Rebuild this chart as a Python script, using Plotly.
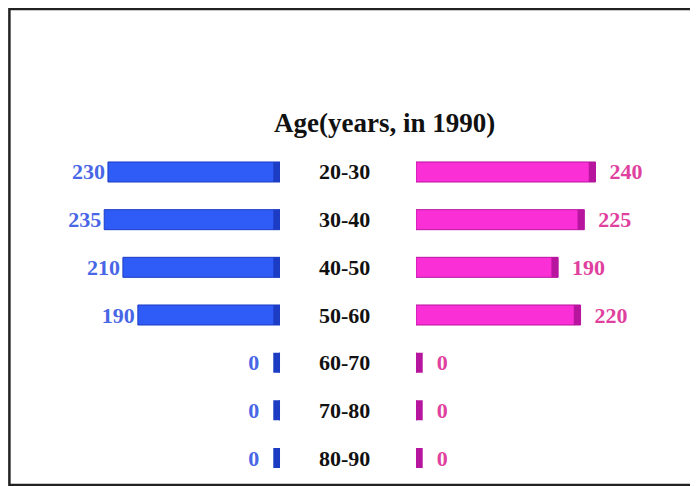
import plotly.graph_objects as go

# Age groups and counts (1990)
age_groups = ['20-30', '30-40', '40-50', '50-60', '60-70', '70-80', '80-90']
left_values = [230, 235, 210, 190, 0, 0, 0]
right_values = [240, 225, 190, 220, 0, 0, 0]
title_text = 'Age(years, in 1990)'

blue = '#2f5cf6'
blue_dark = '#1c3cc4'
pink = '#fb2fd6'
pink_dark = '#b8159f'
serif = 'Liberation Serif, Times New Roman, serif'
nb = '\u00a0'

cap = 9  # depth of the 3D end cap, in data units

fig = go.Figure()

# Left side (blue), reversed axis
fig.add_trace(go.Bar(
    y=age_groups, x=left_values, orientation='h',
    width=0.42, marker=dict(color=blue, line=dict(color=blue_dark, width=1)),
    text=[str(v) if v else '' for v in left_values],
    textposition='outside', cliponaxis=False, constraintext='none',
    textfont=dict(family=serif, size=22, color='#4866e6', weight='bold'),
    xaxis='x', yaxis='y', showlegend=False,
))
fig.add_trace(go.Bar(
    y=age_groups, x=[cap] * len(left_values), base=0, orientation='h',
    width=0.42, marker=dict(color=blue_dark, line=dict(width=0)),
    text=['' if v else str(v) + nb * 2 for v in left_values],
    textposition='outside', cliponaxis=False, constraintext='none',
    textfont=dict(family=serif, size=22, color='#4866e6', weight='bold'),
    xaxis='x', yaxis='y', showlegend=False,
))

# Right side (pink)
fig.add_trace(go.Bar(
    y=age_groups, x=right_values, orientation='h',
    width=0.42, marker=dict(color=pink, line=dict(color=pink_dark, width=1)),
    xaxis='x2', yaxis='y', showlegend=False,
))
fig.add_trace(go.Bar(
    y=age_groups, x=[cap] * len(right_values),
    base=[max(v - cap, 0) for v in right_values],
    orientation='h', width=0.42,
    marker=dict(color=pink_dark, line=dict(width=0)),
    text=[nb * 2 + str(v) for v in right_values],
    textposition='outside', cliponaxis=False, constraintext='none',
    textfont=dict(family=serif, size=22, color='#e0409e', weight='bold'),
    xaxis='x2', yaxis='y', showlegend=False,
))

# Age group labels in the middle
for g in age_groups:
    fig.add_annotation(
        x=0.4828, xref='paper', y=g, yref='y', text='<b>%s</b>' % g,
        showarrow=False, font=dict(family=serif, size=22, color='#111111'),
    )

fig.add_annotation(
    x=0.540, xref='paper', y=0.7634, yref='paper', yanchor='middle',
    text='<b>%s</b>' % title_text,
    showarrow=False, font=dict(family=serif, size=27, color='#111111'),
)

# Frame around the picture
fig.add_shape(type='rect', xref='paper', yref='paper',
              x0=0.002, x1=1.02, y0=0.0185, y1=0.998,
              line=dict(color='#222222', width=2.5))

fig.update_layout(
    width=698, height=486,
    margin=dict(l=0, r=0, t=0, b=0),
    paper_bgcolor='white', plot_bgcolor='white',
    barmode='overlay',
    xaxis=dict(domain=[0, 0.3897], range=[363.6, 0], visible=False),
    xaxis2=dict(domain=[0.5845, 1], range=[0, 387.7], visible=False, anchor='y'),
    yaxis=dict(domain=[0.025, 0.7116], categoryorder='array', categoryarray=age_groups,
               range=[6.5, -0.5], visible=False),
)

fig.write_html('out.html')
